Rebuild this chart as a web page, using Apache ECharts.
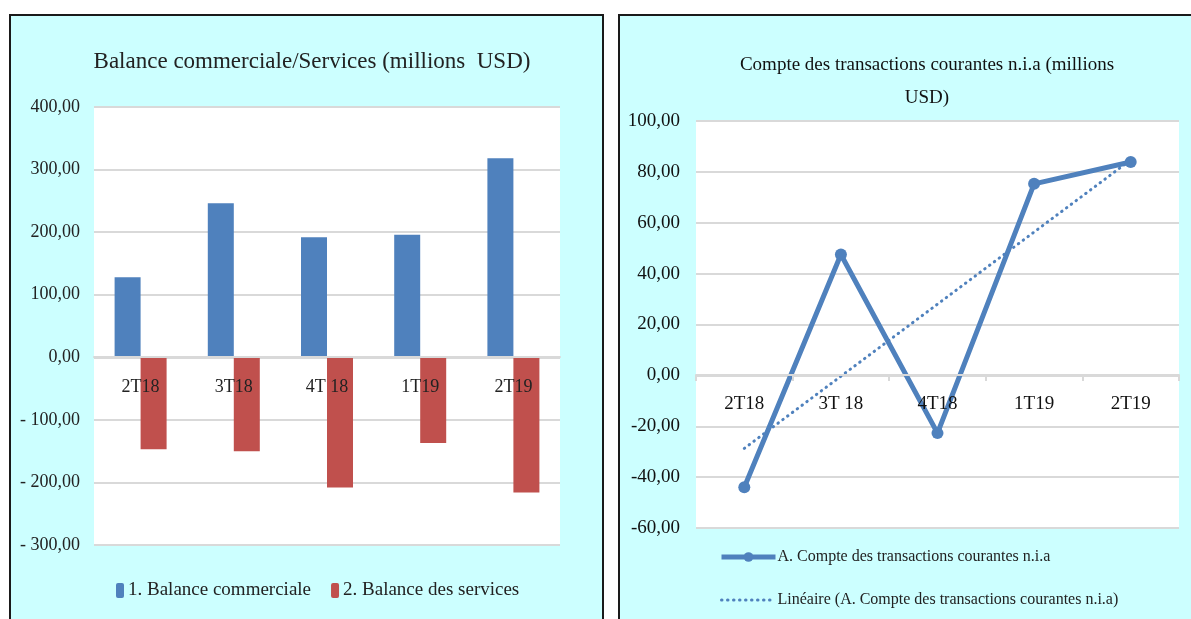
<!DOCTYPE html>
<html>
<head>
<meta charset="utf-8">
<script src="https://cdn.jsdelivr.net/npm/echarts@6/dist/echarts.min.js"></script>
<style>
  html, body { margin: 0; padding: 0; background: #fff; }
  body { width: 1191px; height: 619px; position: relative; overflow: hidden; }
  .panel { position: absolute; background: #ccffff; border: 2px solid #1a1a1a; box-sizing: border-box; }
  #chart { position: absolute; left: 0; top: 0; width: 1191px; height: 619px; }
</style>
</head>
<body>
<div class="panel" style="left:9px;top:14px;width:595px;height:640px;"></div>
<div class="panel" style="left:618px;top:14px;width:600px;height:640px;"></div>
<div id="chart"></div>
<script>
// left chart: trade / services balance
const barCategories = ["2T18", "3T18", "4T 18", "1T19", "2T19"]
const tradeBalance = [128, 246, 192, 196, 318]
const servicesBalance = [-147, -150, -208, -137, -216]
const barTickLabels = ["- 300,00", "- 200,00", "- 100,00", "0,00", "100,00", "200,00", "300,00", "400,00"]

// right chart: current account
const lineCategories = ["2T18", "3T 18", "4T18", "1T19", "2T19"]
const currentAccount = [-44, 47.5, -22.7, 75.3, 83.9]
const trendEnds = [-28.7, null, null, null, 84.7]
const lineTickLabels = ["-60,00", "-40,00", "-20,00", "0,00", "20,00", "40,00", "60,00", "80,00", "100,00"]

const blue = "#4f81bd"
const red = "#c0504d"
const gridGray = "#d9d9d9"
const font = "'Liberation Serif', serif"
const textColor = "#222"

const chart = echarts.init(document.getElementById("chart"))
chart.setOption({
  backgroundColor: "transparent",
  textStyle: {fontFamily: font, color: textColor},
  animation: false,
  title: [
    {
      text: "Balance commerciale/Services (millions  USD)",
      left: 307, top: 45, textAlign: "center",
      textStyle: {fontFamily: font, fontSize: 23, fontWeight: "normal", color: textColor}
    },
    {
      text: "Compte des transactions courantes n.i.a (millions\nUSD)",
      left: 922, top: 44, textAlign: "center",
      textStyle: {fontFamily: font, fontSize: 19, fontWeight: "normal", color: "#111", lineHeight: 33}
    }
  ],
  legend: [
    {
      left: 111, top: 576,
      itemWidth: 8, itemHeight: 15, itemGap: 20,
      textStyle: {fontFamily: font, fontSize: 19, color: textColor, padding: [0, 0, 0, -1]},
      data: ["1. Balance commerciale", "2. Balance des services"]
    },
    {
      left: 714, top: 544, orient: "vertical",
      itemWidth: 54, itemHeight: 12, itemGap: 27,
      textStyle: {fontFamily: font, fontSize: 16, color: textColor, padding: [0, 0, 0, -3]},
      data: [
        {name: "A. Compte des transactions courantes n.i.a", lineStyle: {width: 5}},
        {name: "Linéaire (A. Compte des transactions courantes n.i.a)", itemStyle: {opacity: 0}, lineStyle: {width: 3}}
      ]
    }
  ],
  grid: [
    {left: 94, top: 107, width: 466, height: 438, show: true, backgroundColor: "#fff", borderWidth: 0},
    {left: 696, top: 121, width: 483, height: 407, show: true, backgroundColor: "#fff", borderWidth: 0}
  ],
  xAxis: [
    {
      gridIndex: 0, type: "category", data: barCategories, z: 10,
      offset: -188,
      axisLine: {onZero: false, lineStyle: {color: gridGray, width: 2}},
      axisTick: {show: false},
      axisLabel: {fontFamily: font, fontSize: 18, color: textColor, margin: 21}
    },
    {
      gridIndex: 1, type: "category", data: lineCategories, z: 10,
      offset: -153,
      axisLine: {onZero: false, lineStyle: {color: gridGray, width: 2}},
      axisTick: {show: true, length: 6, lineStyle: {color: gridGray, width: 2}},
      axisLabel: {fontFamily: font, fontSize: 19, color: "#111", margin: 20}
    }
  ],
  yAxis: [
    {
      gridIndex: 0, type: "value", min: -300, max: 400, interval: 100,
      axisLine: {show: false}, axisTick: {show: false},
      splitLine: {lineStyle: {color: gridGray, width: 2}},
      axisLabel: {fontFamily: font, fontSize: 18, color: textColor, margin: 14,
        formatter: (v) => barTickLabels[Math.round((v + 300) / 100)]}
    },
    {
      gridIndex: 1, type: "value", min: -60, max: 100, interval: 20,
      axisLine: {show: false}, axisTick: {show: false},
      splitLine: {lineStyle: {color: gridGray, width: 2}},
      axisLabel: {fontFamily: font, fontSize: 19, color: "#111", margin: 16,
        formatter: (v) => lineTickLabels[Math.round((v + 60) / 20)]}
    }
  ],
  series: [
    {
      name: "1. Balance commerciale", type: "bar", xAxisIndex: 0, yAxisIndex: 0,
      data: tradeBalance, barWidth: 26, barGap: "0%",
      itemStyle: {color: blue}
    },
    {
      name: "2. Balance des services", type: "bar", xAxisIndex: 0, yAxisIndex: 0,
      data: servicesBalance, barWidth: 26, barGap: "0%",
      itemStyle: {color: red}
    },
    {
      name: "Linéaire (A. Compte des transactions courantes n.i.a)", type: "line",
      xAxisIndex: 1, yAxisIndex: 1, data: trendEnds, connectNulls: true,
      showSymbol: false, symbol: "none",
      lineStyle: {color: blue, width: 3, type: [0.5, 5.5], cap: "round"},
      itemStyle: {color: blue}
    },
    {
      name: "A. Compte des transactions courantes n.i.a", type: "line",
      xAxisIndex: 1, yAxisIndex: 1, data: currentAccount,
      symbol: "circle", symbolSize: 12,
      lineStyle: {color: blue, width: 5},
      itemStyle: {color: blue}
    }
  ]
})
</script>
</body>
</html>
